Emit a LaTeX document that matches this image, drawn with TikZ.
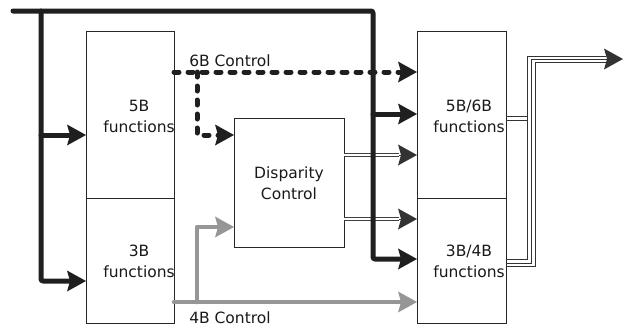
\documentclass[tikz,border=0pt]{standalone}
\usepackage{fontspec}
\setmainfont{DejaVu Sans}
\usetikzlibrary{arrows.meta}
\definecolor{greyc}{RGB}{150,150,150}
\begin{document}
\begin{tikzpicture}[x=1pt,y=-1pt,
  box/.style={draw=black!85,line width=0.8pt,anchor=north west,inner sep=0pt,outer sep=0pt},
  lbl/.style={font=\fontsize{15.5}{21}\selectfont,text=black!90,align=center,inner sep=0pt},
  bus/.style={line width=5pt,draw=black!88,line cap=round,line join=round,rounded corners=2pt},
  ctl/.style={line width=5pt,draw=black!88,dash pattern=on 5pt off 9pt,line cap=round},
  greyline/.style={line width=4.5pt,draw=greyc,line cap=round,line join=round},
  head/.style={-{Stealth[length=19pt,width=21pt,inset=3pt,line width=0pt]}},
  dbl/.style={double=white,double distance=2.6pt,line width=0.8pt,draw=black!75},
  wire/.style={line width=0.8pt,draw=black!80}]
\useasboundingbox (0,0) rectangle (625,327);

% function blocks
\node[box,minimum width=88pt,minimum height=167pt] (b5) at (86,31) {};
\node[box,minimum width=88pt,minimum height=125pt] (b3) at (86,198) {};
\node[box,minimum width=89pt,minimum height=167pt] (b56) at (417,31) {};
\node[box,minimum width=89pt,minimum height=125pt] (b34) at (417,198) {};
\node[box,minimum width=110pt,minimum height=129pt] (dc) at (234,118) {};

% block captions
\node[lbl] (t5) at (139,116) {5B\\functions};
\node[lbl] (t3) at (139,261) {3B\\functions};
\node[lbl] (t56) at (469,116) {5B/6B\\functions};
\node[lbl] (t34) at (469,261) {3B/4B\\functions};
\node[lbl] (tdc) at (289,183) {Disparity\\Control};
\node[lbl] (l6) at (230,61) {6B Control};
\node[lbl] (l4) at (230,318) {4B Control};

% disparity outputs (double lines)
\coordinate (d1) at (399,155);
\coordinate (d2) at (399,219);
\draw[dbl] (dc.east |- d1) -- (d1);
\draw[wire,head] (d1) -- (b56.west |- d1);
\draw[dbl] (dc.east |- d2) -- (d2);
\draw[wire,head] (d2) -- (b34.west |- d2);

% main input bus
\coordinate (s) at (13,11);
\draw[bus,head] (s) -- (373,11) -- (373,259) -- (b34.west |- 0,259);
\draw[bus,head] (41,11) -- (41,281) -- (b3.west |- 0,281);
\draw[bus,head] (41,135) -- (b5.west |- 0,135);
\draw[bus,head] (373,114) -- (b56.west |- 0,114);

% 6B control (dashed)
\draw[ctl,head] (b5.east |- 0,72) -- (b56.west |- 0,72);
\draw[ctl,head] (197,72) -- (197,135) -- (dc.west |- 0,135);

% 4B control (grey)
\draw[greyline,head] (b3.east |- 0,302) -- (b34.west |- 0,302);
\draw[greyline,head] (197,302) -- (197,227) -- (dc.west |- 0,227);

% output bus
\draw[wire] (b56.east |- 0,116) -- (527,116);
\draw[wire] (b56.east |- 0,120) -- (527,120);
\draw[wire] (b34.east |- 0,259) -- (527,259) -- (527,56) -- (606,56);
\draw[wire] (b34.east |- 0,263) -- (531,263) -- (531,59) -- (606,59);
\draw[wire] (b34.east |- 0,266) -- (535,266) -- (535,62) -- (606,62);
\coordinate (out) at (623,59);
\draw[wire,head] (603,59) -- (out);
\end{tikzpicture}
\end{document}
